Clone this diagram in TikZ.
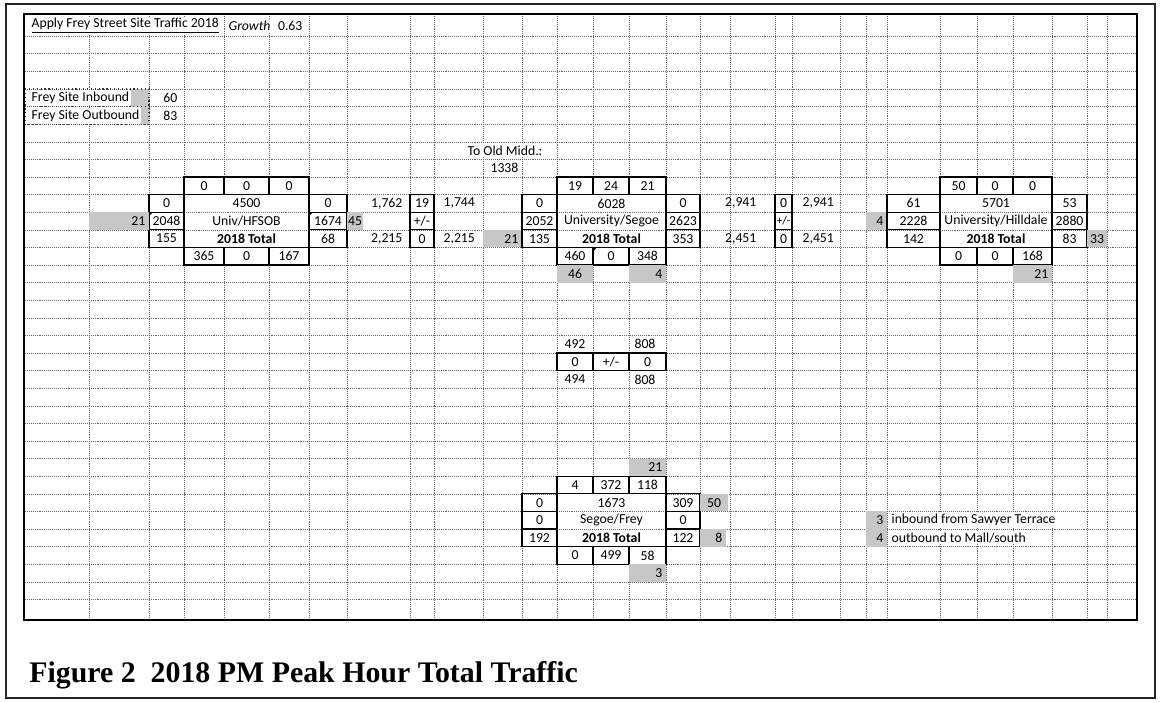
\documentclass[tikz,border=0pt]{standalone}
\usepackage{fontspec}
\setmainfont{Liberation Serif}
\newfontfamily\cellfont{Carlito}
\usepackage{tikz}
\newcommand{\ixframe}[7]{%
  \fill[white] (#2,#7+1) rectangle (#5,#7+4);
  \draw[gridline] (#2,#7+2) -- (#5,#7+2) (#2,#7+3) -- (#5,#7+3);
  \draw[boxline] (#2,#7) rectangle (#5,#7+1) (#3,#7) -- (#3,#7+1) (#4,#7) -- (#4,#7+1);
  \draw[boxline] (#2,#7+4) rectangle (#5,#7+5) (#3,#7+4) -- (#3,#7+5) (#4,#7+4) -- (#4,#7+5);
  \draw[boxline] (#1,#7+1) rectangle (#2,#7+4) (#1,#7+2) -- (#2,#7+2) (#1,#7+3) -- (#2,#7+3);
  \draw[boxline] (#5,#7+1) rectangle (#6,#7+4) (#5,#7+2) -- (#6,#7+2) (#5,#7+3) -- (#6,#7+3);
}

\begin{document}
\begin{tikzpicture}[
  x=0.75pt, y=-13.2pt,
  gridline/.style={densely dotted, line width=0.45pt, black!60},
  boxline/.style={line width=0.9pt, black},
  celldots/.style={dotted, line width=0.9pt, black!80},
  shadecell/.style={fill=black!22},
  cell/.style={font=\cellfont\fontsize{10.3}{12}\selectfont, inner sep=1pt},
  cellw/.style={cell, fill=white},
  narrowcell/.style={font=\cellfont\fontsize{8.8}{10}\selectfont, inner sep=0pt},
  totcell/.style={cell, font=\cellfont\bfseries\fontsize{10.3}{12}\selectfont},
]
  \useasboundingbox (0,-10.057) rectangle (1160,29.83);
  \draw[line width=0.9pt, black!85] (6,-9.83) rectangle (1155,29.6);

  % spreadsheet grid
  \foreach \k in {-8,...,24}
    \draw[gridline] (25,\k) -- (1136,\k);
  \foreach \c in {89,149,184,224,269,309,347,410,434,483,522,557,593,629,666,700,730,775,792,840,866,887,940,977,1013,1052,1087,1107}
    \draw[gridline] (\c,-9.26) -- (\c,25.17);

  % header cells
  \node[cellw, anchor=west] (title) at (30,-8.6) {\underline{Apply Frey Street Site Traffic 2018}};
  \node[cellw, anchor=west, font=\cellfont\itshape\fontsize{10.3}{12}\selectfont] (growth) at (227,-8.6) {Growth};
  \node[cell, anchor=east] (growthval) at (304,-8.6) {0.63};

  \fill[shadecell] (130,-5) rectangle (149,-4);
  \fill[shadecell] (140,-4) rectangle (149,-3);
  \draw[celldots] (25,-5) rectangle (149,-3) (25,-4) -- (149,-4);
  \node[cellw, anchor=west] (inb) at (30,-4.5) {Frey Site Inbound};
  \node[cellw, anchor=west] (outb) at (30,-3.5) {Frey Site Outbound};
  \node[cell, anchor=east] (inbval) at (179,-4.5) {60};
  \node[cell, anchor=east] (outbval) at (179,-3.5) {83};

  \node[cellw, anchor=west] (oldmid) at (466,-1.5) {To Old Midd.:};
  \node[cell, anchor=east] (oldmidval) at (520,-0.5) {1338};

  % Univ/HFSOB
  \ixframe{149}{184}{224}{269}{309}{347}{0}
  \fill (149,2) -- (153,2) -- (149,2.23) -- cycle;
  \fill (309,2) -- (313,2) -- (309,2.23) -- cycle;
  \node[cell] (hf-n1) at (204,0.5) {0};
  \node[cell] (hf-n2) at (246.5,0.5) {0};
  \node[cell] (hf-n3) at (289,0.5) {0};
  \node[cell] (hf-w1) at (166.5,1.5) {0};
  \node[cell] (hf-w2) at (166.5,2.5) {2048};
  \node[cell] (hf-w3) at (166.5,3.5) {155};
  \node[cell] (hf-c1) at (246.5,1.5) {4500};
  \node[cell] (hf-name) at (246.5,2.5) {Univ/HFSOB};
  \node[totcell] (hf-tot) at (246.5,3.5) {2018 Total};
  \node[cell] (hf-e1) at (328,1.5) {0};
  \node[cell] (hf-e2) at (328,2.5) {1674};
  \node[cell] (hf-e3) at (328,3.5) {68};
  \node[cell] (hf-s1) at (204,4.5) {365};
  \node[cell] (hf-s2) at (246.5,4.5) {0};
  \node[cell] (hf-s3) at (289,4.5) {167};
  \fill[shadecell] (89,2) rectangle (149,3);
  \node[cell, anchor=east] (hf-win) at (147,2.5) {21};
  \fill[shadecell] (347,2) rectangle (363,3);
  \node[cell] (hf-ein) at (355,2.5) {45};

  % link HFSOB - Segoe
  \draw[boxline] (410,1) rectangle (434,4) (410,2) -- (434,2) (410,3) -- (434,3);
  \node[cell] (pma-1) at (422,1.5) {19};
  \node[cell] (pma-2) at (422,2.5) {+/-};
  \node[cell] (pma-3) at (422,3.5) {0};
  \node[cell, anchor=east] (pma-wt) at (404,1.5) {1,762};
  \node[cell, anchor=east] (pma-wb) at (404,3.5) {2,215};
  \node[cell, anchor=west] (pma-et) at (442,1.5) {1,744};
  \node[cell, anchor=west] (pma-eb) at (442,3.5) {2,215};
  \fill[shadecell] (483,3) rectangle (522,4);
  \node[cell, anchor=east] (sg-win) at (520,3.5) {21};

  % University/Segoe
  \ixframe{522}{557}{593}{629}{666}{700}{0}
  \fill (593,4) -- (597,4) -- (593,4.23) -- cycle;
  \node[cell] (sg-n1) at (575,0.5) {19};
  \node[cell] (sg-n2) at (611,0.5) {24};
  \node[cell] (sg-n3) at (647.5,0.5) {21};
  \node[cell] (sg-w1) at (539.5,1.5) {0};
  \node[cell] (sg-w2) at (539.5,2.5) {2052};
  \node[cell] (sg-w3) at (539.5,3.5) {135};
  \node[cell] (sg-c1) at (611.5,1.5) {6028};
  \node[cell] (sg-name) at (611.5,2.5) {University/Segoe};
  \node[totcell] (sg-tot) at (611.5,3.5) {2018 Total};
  \node[cell] (sg-e1) at (683,1.5) {0};
  \node[cell] (sg-e2) at (683,2.5) {2623};
  \node[cell] (sg-e3) at (683,3.5) {353};
  \node[cell] (sg-s1) at (575,4.5) {460};
  \node[cell] (sg-s2) at (611,4.5) {0};
  \node[cell] (sg-s3) at (647.5,4.5) {348};
  \fill[shadecell] (557,5) rectangle (593,6);
  \node[cell] (sg-sin) at (575,5.5) {46};
  \fill[shadecell] (629,5) rectangle (666,6);
  \node[cell, anchor=east] (sg-sout) at (664,5.5) {4};

  % link Segoe - Hilldale
  \draw[boxline] (775,1) rectangle (792,4) (775,2) -- (792,2) (775,3) -- (792,3);
  \node[cell] (pmb-1) at (783.5,1.5) {0};
  \node[narrowcell] (pmb-2) at (783.5,2.5) {+/-};
  \node[cell] (pmb-3) at (783.5,3.5) {0};
  \node[cell, anchor=east] (pmb-wt) at (758,1.5) {2,941};
  \node[cell, anchor=east] (pmb-wb) at (758,3.5) {2,451};
  \node[cell, anchor=west] (pmb-et) at (801,1.5) {2,941};
  \node[cell, anchor=west] (pmb-eb) at (801,3.5) {2,451};
  \fill[shadecell] (866,2) rectangle (887,3);
  \node[cell, anchor=east] (hd-win) at (885,2.5) {4};

  % University/Hilldale
  \ixframe{887}{940}{977}{1013}{1052}{1087}{0}
  \node[cell] (hd-n1) at (958.5,0.5) {50};
  \node[cell] (hd-n2) at (995,0.5) {0};
  \node[cell] (hd-n3) at (1032.5,0.5) {0};
  \node[cell] (hd-w1) at (913.5,1.5) {61};
  \node[cell] (hd-w2) at (913.5,2.5) {2228};
  \node[cell] (hd-w3) at (913.5,3.5) {142};
  \node[cell] (hd-c1) at (996,1.5) {5701};
  \node[cell] (hd-name) at (996,2.5) {University/Hilldale};
  \node[totcell] (hd-tot) at (996,3.5) {2018 Total};
  \node[cell] (hd-e1) at (1069.5,1.5) {53};
  \node[cell] (hd-e2) at (1069.5,2.5) {2880};
  \node[cell] (hd-e3) at (1069.5,3.5) {83};
  \node[cell] (hd-s1) at (958.5,4.5) {0};
  \node[cell] (hd-s2) at (995,4.5) {0};
  \node[cell] (hd-s3) at (1032.5,4.5) {168};
  \fill[shadecell] (1087,3) rectangle (1107,4);
  \node[cell] (hd-eout) at (1097,3.5) {33};
  \fill[shadecell] (1013,5) rectangle (1052,6);
  \node[cell, anchor=east] (hd-sin) at (1050,5.5) {21};

  % link Segoe - Frey
  \draw[boxline] (557,10) rectangle (666,11) (593,10) -- (593,11) (629,10) -- (629,11);
  \node[cell] (pmc-1) at (575,10.5) {0};
  \node[cell] (pmc-2) at (611,10.5) {+/-};
  \node[cell] (pmc-3) at (647.5,10.5) {0};
  \node[cell] (pmc-nl) at (575,9.5) {492};
  \node[cell] (pmc-nr) at (645,9.5) {808};
  \node[cell] (pmc-sl) at (575,11.5) {494};
  \node[cell] (pmc-sr) at (645,11.5) {808};

  % Segoe/Frey
  \ixframe{522}{557}{593}{629}{666}{700}{17}
  \node[cell] (fr-n1) at (575,17.5) {4};
  \node[cell] (fr-n2) at (611,17.5) {372};
  \node[cell] (fr-n3) at (647.5,17.5) {118};
  \node[cell] (fr-w1) at (539.5,18.5) {0};
  \node[cell] (fr-w2) at (539.5,19.5) {0};
  \node[cell] (fr-w3) at (539.5,20.5) {192};
  \node[cell] (fr-c1) at (611.5,18.5) {1673};
  \node[cell] (fr-name) at (611.5,19.5) {Segoe/Frey};
  \node[totcell] (fr-tot) at (611.5,20.5) {2018 Total};
  \node[cell] (fr-e1) at (683,18.5) {309};
  \node[cell] (fr-e2) at (683,19.5) {0};
  \node[cell] (fr-e3) at (683,20.5) {122};
  \node[cell] (fr-s1) at (575,21.5) {0};
  \node[cell] (fr-s2) at (611,21.5) {499};
  \node[cell] (fr-s3) at (647.5,21.5) {58};
  \fill[shadecell] (629,16) rectangle (666,17);
  \node[cell, anchor=east] (fr-nin) at (664,16.5) {21};
  \fill[shadecell] (700,18) rectangle (728,19);
  \node[cell] (fr-eup) at (714,18.5) {50};
  \fill[shadecell] (700,20) rectangle (726,21);
  \node[cell, anchor=east] (fr-elo) at (724,20.5) {8};
  \fill[shadecell] (629,22) rectangle (666,23);
  \node[cell, anchor=east] (fr-sin) at (664,22.5) {3};

  % legend
  \fill[shadecell] (866,19) rectangle (887,20);
  \fill[shadecell] (866,20) rectangle (887,21);
  \node[cell, anchor=east] (key-in) at (885,19.5) {3};
  \node[cell, anchor=east] (key-out) at (885,20.5) {4};
  \node[cellw, anchor=west] (key-intext) at (890,19.5) {inbound from Sawyer Terrace};
  \node[cellw, anchor=west] (key-outtext) at (890,20.5) {outbound to Mall/south};

  \draw[line width=1.6pt] (24,-9.26) rectangle (1137,25.17);
  \node[anchor=west, inner sep=0pt, font=\bfseries\fontsize{22.4}{26}\selectfont] (caption) at (29,28.3) {Figure 2\ \ 2018 PM Peak Hour Total Traffic};
\end{tikzpicture}
\end{document}
